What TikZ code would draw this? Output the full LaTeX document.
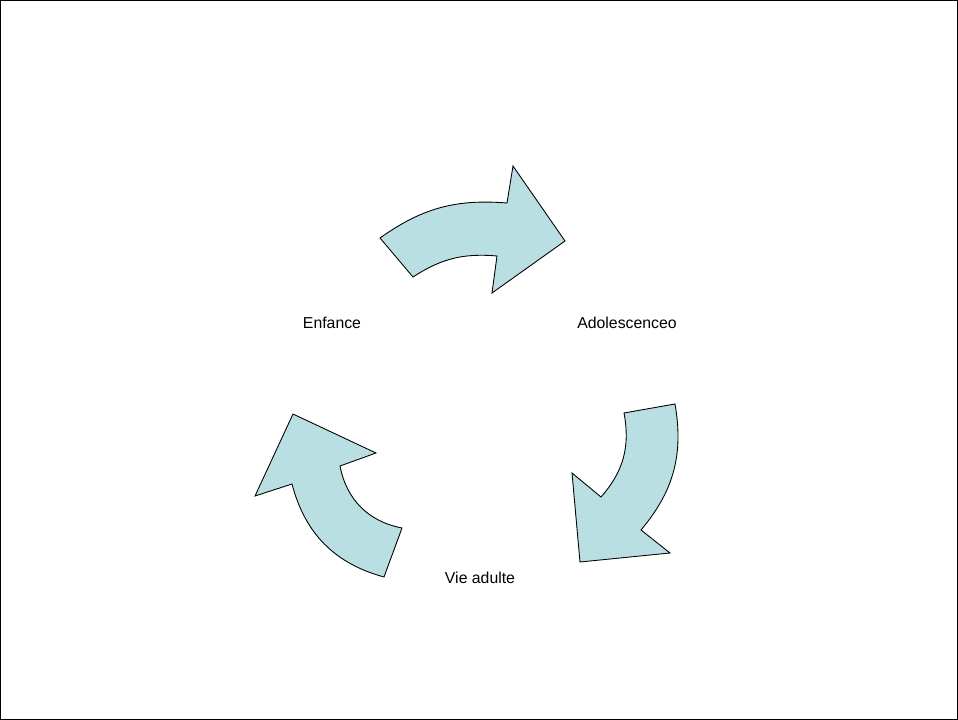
\documentclass[tikz,border=0pt]{standalone}
\usepackage{fontspec}
\setmainfont{Liberation Sans}
\usepackage{tikz}
\definecolor{cyclefill}{RGB}{185,223,226}

\begin{document}
\begin{tikzpicture}[x=0.02cm, y=-0.02cm, font=\fontsize{9}{11}\selectfont,
		cyclearrow/.style={fill=cyclefill, draw=black, line width=0.5pt, line join=miter}]
				\useasboundingbox (0,0) rectangle (958,720);
				\draw[line width=0.8pt] (0.7,0.7) rectangle (957.3,719.3);
				% top arrow
				\draw[cyclearrow] (380,238) to[bend left=20] (507,203) -- (513,166) -- (565,241) -- (492,293) -- (497,256) to[bend right=19] (413,277) -- cycle;
				% right arrow
				\draw[cyclearrow] (675,404) to[bend left=25] (641,530) -- (670,553) -- (580,562) -- (572,473) -- (601,497) to[bend right=26] (624,413) -- cycle;
				% left arrow
				\draw[cyclearrow] (384,577) to[bend left=30] (292,484) -- (255,496) -- (293,414) -- (376,453) -- (340,466) to[bend right=34] (402,528) -- cycle;
				\node (enfance) at (332,323) {Enfance};
				\node (ado) at (627,323) {Adolescenceo};
				\node (adulte) at (480,578) {Vie adulte};
			\end{tikzpicture}
\end{document}
